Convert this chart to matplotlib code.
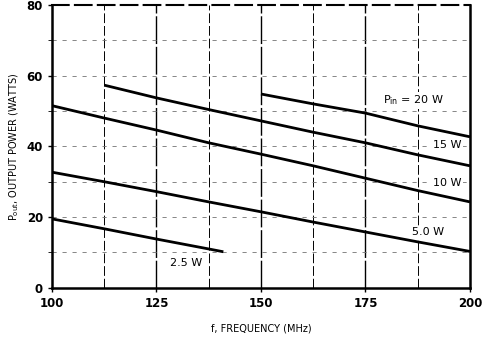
import numpy as np
import matplotlib.pyplot as plt

# output power vs frequency for each input drive level
f20 = [150, 162.5, 175, 187.5, 200]
p20 = [54.8, 52.0, 49.4, 45.8, 42.7]

f15 = [112.5, 125, 137.5, 150, 162.5, 175, 187.5, 200]
p15 = [57.3, 53.7, 50.4, 47.2, 44.0, 41.0, 37.6, 34.5]

f10 = [100, 112.5, 125, 137.5, 150, 162.5, 175, 187.5, 200]
p10 = [51.5, 48.0, 44.6, 41.0, 37.8, 34.5, 31.0, 27.5, 24.3]

f5 = [100, 112.5, 125, 137.5, 150, 162.5, 175, 187.5, 200]
p5 = [32.7, 30.0, 27.2, 24.3, 21.5, 18.6, 15.8, 13.0, 10.3]

f25 = [100, 112.5, 125, 137.5, 141]
p25 = [19.5, 16.7, 13.8, 11.0, 10.2]

xticks = [100, 125, 150, 175, 200]
yticks = [0, 20, 40, 60, 80]

fig = plt.figure(figsize=(4.86, 3.46), dpi=100)
ax = fig.add_axes([0.107, 0.168, 0.86, 0.818])

# grid
for x in np.arange(112.5, 200, 12.5):
    major = (x - 100) % 25 == 0
    ax.axvline(x, color="black", lw=1.0 if major else 0.7,
               ls=(0, (20, 2)) if major else (0, (10, 3)), zorder=1)
for y in np.arange(10, 80, 10):
    ax.axhline(y, color="0.45", lw=0.6, ls=(0, (5, 7)), zorder=1)

for fx, py in [(f20, p20), (f15, p15), (f10, p10), (f5, p5), (f25, p25)]:
    ax.plot(fx, py, color="black", lw=2.0, solid_capstyle="butt", zorder=3)

box = dict(facecolor="white", edgecolor="none", pad=1)
kw = dict(ha="center", va="center", fontsize=8, bbox=box, zorder=4)
ax.text(186.5, 53, "P$_{\\mathrm{in}}$ = 20 W", **kw)
ax.text(194.5, 40.4, "15 W", **kw)
ax.text(194.5, 29.7, "10 W", **kw)
ax.text(190, 15.8, "5.0 W", **kw)
ax.text(132, 7, "2.5 W", **kw)

ax.set_xlim(100, 200)
ax.set_ylim(0, 80)
ax.set_xticks(xticks)
ax.set_yticks(yticks)
ax.set_yticks(np.arange(10, 80, 20), minor=True)
ax.tick_params(axis="both", labelsize=8.5, length=3, width=1, direction="out")
ax.tick_params(axis="y", which="minor", length=3)
for lab in ax.get_xticklabels() + ax.get_yticklabels():
    lab.set_fontweight("bold")

for s in ["left", "bottom", "right"]:
    ax.spines[s].set_linewidth(1.8)
ax.spines["top"].set_linewidth(1.5)
ax.spines["top"].set_linestyle((0, (8, 3)))

ax.set_xlabel("f, FREQUENCY (MHz)", fontsize=7, labelpad=10)
ax.set_ylabel("P$_{\\mathrm{out}}$, OUTPUT POWER (WATTS)", fontsize=7, labelpad=4)

plt.savefig("out.png", dpi=100)
